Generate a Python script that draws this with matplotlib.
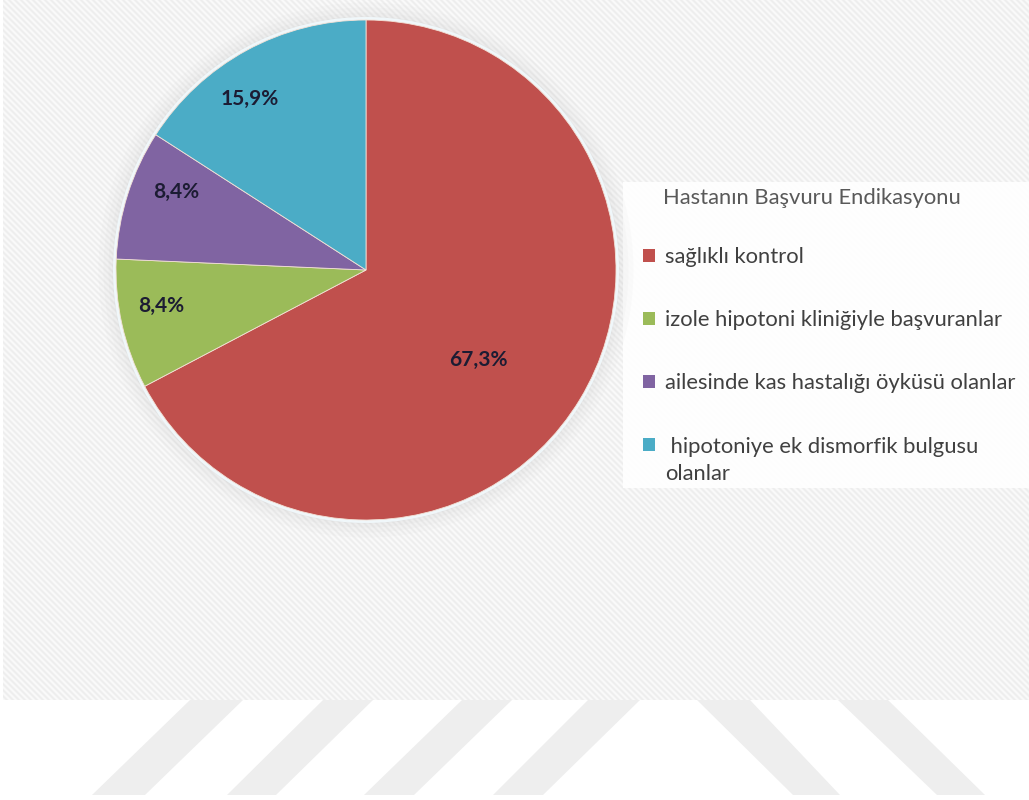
import numpy as np
import matplotlib
matplotlib.use("Agg")
import matplotlib.pyplot as plt
from matplotlib.patches import Rectangle, Polygon, Circle
from matplotlib.legend_handler import HandlerPatch

# ---- data ----
categories = [
    "sağlıklı kontrol",
    "izole hipotoni kliniğiyle başvuranlar",
    "ailesinde kas hastalığı öyküsü olanlar",
    " hipotoniye ek dismorfik bulgusu\nolanlar",
]
shares = [67.3, 8.4, 8.4, 15.9]
legend_title = "Hastanın Başvuru Endikasyonu"

# ---- styling ----
colors = ["#C0504D", "#9BBB59", "#8064A2", "#4BACC6"]
label_radius = [0.575, 0.833, 0.82, 0.826]
label_turn = [-7.6, -2.6, -4.7, 5.6]          # degrees relative to wedge middle
FONT = "Lato"

W, H = 1029, 800
fig = plt.figure(figsize=(W / 100, H / 100), dpi=100)
fig.patch.set_facecolor("white")

# backdrop axes in pixel units (y downwards)
bg = fig.add_axes([0, 0, 1, 1])
bg.set_axis_off()

# fine diagonal hatch texture of the chart area
yy, xx = np.mgrid[0:700, 0:W - 3]
tex = 0.5 + 0.5 * np.cos(2 * np.pi * (xx - yy) / 6.0)
img = 0.978 - 0.05 * tex
bg.imshow(img, cmap="gray", vmin=0, vmax=1, extent=(3, W, 700, 0),
          interpolation="bilinear", aspect="auto", zorder=0)

# faint slanted bands along the bottom margin
band_color = "#eeeeee"
bands = [((92, 145), (190, 243)), ((227, 276), (323, 373)),
         ((364, 414), (462, 512)), ((493, 543), (588, 640)),
         ((793, 840), (697, 750)), ((937, 985), (838, 888))]
for (b0, b1), (t0, t1) in bands:
    bg.add_patch(Polygon([(b0, 795), (b1, 795), (t1, 700), (t0, 700)],
                         closed=True, facecolor=band_color, edgecolor="none", zorder=1))

# white panel behind the legend
bg.add_patch(Rectangle((623, 182), W - 623, 306, facecolor="white",
                       edgecolor="none", alpha=0.93, zorder=2))

bg.set_xlim(0, W)
bg.set_ylim(H, 0)

# ---- pie ----
cx, cy, R = 366, 270, 250
pax = fig.add_axes([(cx - R) / W, (H - cy - R) / H, 2 * R / W, 2 * R / H])
pax.set_axis_off()

# soft halo around the pie
for k, a in [(0.07, 0.03), (0.05, 0.035), (0.03, 0.045), (0.015, 0.05)]:
    pax.add_patch(Circle((0, 0), 1 + k, facecolor="#9a9a9a", edgecolor="none",
                         alpha=a, clip_on=False, zorder=0))
pax.add_patch(Circle((0, 0), 1.012, facecolor="#f0f7fa", edgecolor="none",
                     clip_on=False, zorder=0.5))

wedges, _ = pax.pie(shares, colors=colors, startangle=90, counterclock=False,
                    radius=1, wedgeprops=dict(edgecolor="#f3e1d6", linewidth=0.6))
for w in wedges:
    w.set_zorder(1)

for w, v, r, t in zip(wedges, shares, label_radius, label_turn):
    ang = np.deg2rad((w.theta1 + w.theta2) / 2 + t)
    pax.text(r * np.cos(ang), r * np.sin(ang), f"{v:.1f}".replace(".", ",") + "%",
             ha="center", va="center", fontsize=15, fontweight="bold",
             family=FONT, color="#1c1c33", zorder=3)
pax.set_xlim(-1, 1)
pax.set_ylim(-1, 1)


# ---- legend ----
LEG_SIZE = 15.8
LINE_GAP = 1.45


def square_on_first_line(n_lines):
    shift = (n_lines - 1) * 0.5 * LEG_SIZE * LINE_GAP

    def make(legend, orig_handle, xdescent, ydescent, width, height, fontsize):
        return Rectangle((-xdescent, -ydescent + shift), width, height)
    return make


handler_map = {w: HandlerPatch(patch_func=square_on_first_line(lbl.count("\n") + 1))
               for w, lbl in zip(wedges, categories)}

leg = pax.legend(wedges, categories, loc="upper left",
                 bbox_to_anchor=(643 / W, 1 - 247 / H), bbox_transform=fig.transFigure,
                 frameon=False, borderpad=0, borderaxespad=0,
                 prop=dict(family=FONT, size=LEG_SIZE), labelcolor="#404040",
                 handlelength=0.55, handleheight=0.55, handletextpad=0.45,
                 labelspacing=1.97, handler_map=handler_map)
for t in leg.get_texts():
    t.set_linespacing(LINE_GAP)
for h in leg.legend_handles:
    h.set_edgecolor("none")

fig.text(663 / W, 1 - 198 / H, legend_title, ha="left", va="center",
         family=FONT, fontsize=LEG_SIZE, color="#595959")

fig.savefig("out.png", dpi=100, facecolor="white")
